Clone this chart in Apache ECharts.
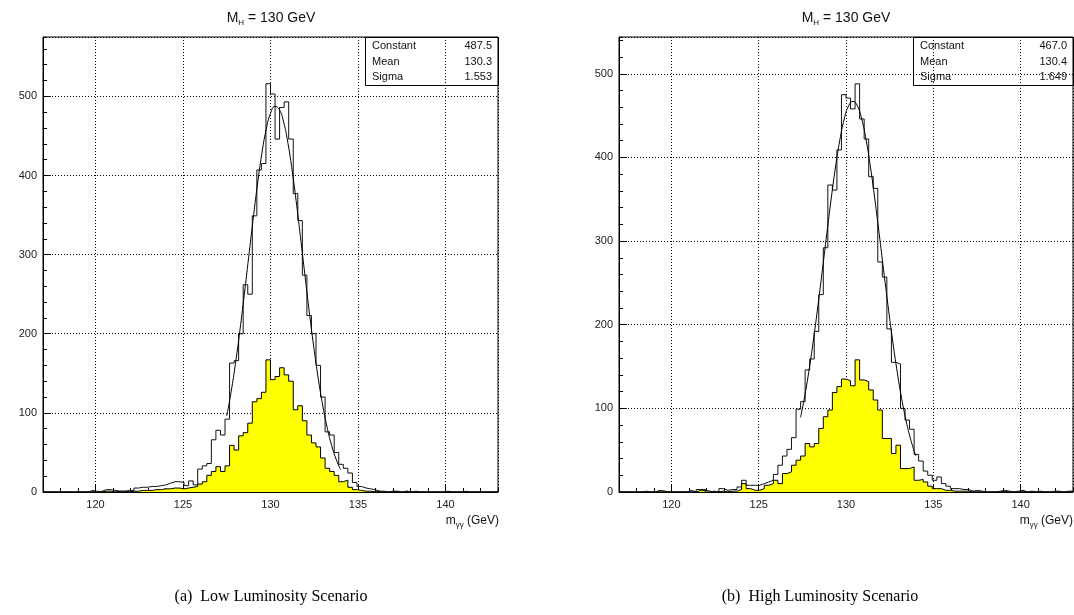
<!DOCTYPE html>
<html>
<head>
<meta charset="utf-8">
<script src="https://cdn.jsdelivr.net/npm/echarts@6/dist/echarts.min.js"></script>
<style>
  html, body { margin: 0; padding: 0; background: #fff; }
  #main { width: 1074px; height: 615px; }
</style>
</head>
<body>
<div id="main"></div>
<script>
  // binning of both histograms: 100 bins from 117 to 143 GeV
  var binLow = 117;
  var binWidth = 0.26;

  // (a) low luminosity: all events (open) and selected events (yellow)
  var lowTotal = [
    0, 0, 0, 0, 0, 0, 0, 0, 0, 0,
    2, 0, 1, 3, 3, 2, 1, 1, 2, 2,
    5, 6, 6, 7, 7, 8, 9, 11, 13, 13,
    12, 8, 14, 9, 29, 33, 36, 66, 78, 72,
    92, 163, 166, 200, 262, 250, 349, 407, 415, 516,
    503, 446, 486, 493, 446, 377, 343, 274, 223, 200,
    160, 120, 76, 72, 50, 35, 30, 24, 12, 7,
    5, 4, 3, 1, 1, 0, 1, 1, 0, 1,
    0, 1, 0, 0, 0, 0, 0, 0, 1, 0,
    0, 0, 1, 0, 0, 0, 0, 0, 0, 0
  ];
  var lowSel = [
    0, 0, 0, 0, 0, 0, 0, 0, 0, 0,
    0, 1, 0, 1, 1, 0, 1, 1, 0, 1,
    1, 2, 2, 2, 3, 3, 4, 4, 5, 5,
    4, 5, 6, 7, 10, 13, 21, 26, 32, 26,
    33, 59, 53, 71, 75, 87, 114, 118, 126, 167,
    142, 146, 157, 148, 140, 104, 109, 90, 72, 62,
    57, 43, 30, 26, 21, 13, 15, 6, 3, 2,
    1, 1, 0, 1, 0, 0, 1, 0, 0, 1,
    0, 0, 0, 0, 0, 0, 0, 0, 0, 0,
    0, 0, 0, 0, 0, 0, 0, 0, 0, 0
  ];
  // (b) high luminosity
  var highTotal = [
    0, 0, 0, 0, 0, 1, 0, 0, 2, 1,
    0, 0, 0, 0, 0, 2, 0, 3, 3, 0,
    1, 0, 4, 2, 3, 3, 6, 14, 8, 8,
    8, 10, 12, 14, 21, 32, 43, 51, 65, 99,
    108, 146, 159, 192, 236, 292, 367, 361, 409, 475,
    471, 458, 488, 446, 422, 377, 363, 275, 257, 195,
    155, 153, 100, 86, 75, 45, 37, 25, 20, 14,
    18, 10, 7, 4, 4, 3, 3, 1, 2, 1,
    0, 0, 0, 1, 2, 1, 0, 1, 2, 0,
    1, 0, 1, 0, 0, 1, 1, 0, 1, 1
  ];
  var highSel = [
    0, 0, 0, 0, 0, 0, 0, 0, 1, 1,
    0, 0, 0, 0, 0, 0, 0, 2, 2, 1,
    0, 0, 1, 0, 1, 1, 3, 10, 4, 2,
    2, 4, 8, 10, 14, 10, 22, 24, 32, 38,
    43, 58, 54, 58, 76, 90, 98, 119, 126, 135,
    133, 127, 158, 134, 132, 122, 110, 98, 64, 64,
    46, 56, 28, 28, 30, 14, 15, 12, 7, 4,
    4, 2, 2, 1, 1, 1, 1, 0, 0, 0,
    0, 0, 0, 0, 1, 0, 0, 0, 1, 0,
    0, 0, 0, 0, 0, 0, 0, 0, 0, 0
  ];

  // gaussian fit curves
  var lowFitX = [127.5, 127.75, 128, 128.25, 128.5, 128.75, 129, 129.25, 129.5, 129.75, 130, 130.25, 130.5,
    130.75, 131, 131.25, 131.5, 131.75, 132, 132.25, 132.5, 132.75, 133, 133.25, 133.5, 133.75, 134];
  var lowFitY = [96.0, 126.6, 162.8, 204.0, 249.0, 296.3, 343.4, 387.9, 426.9, 457.9, 478.5, 487.3, 483.5,
    467.5, 440.4, 404.3, 361.7, 315.3, 267.8, 221.6, 178.7, 140.4, 107.5, 80.2, 58.4, 41.4, 28.5];
  var highFitX = [127.4, 127.65, 127.9, 128.15, 128.4, 128.65, 128.9, 129.15, 129.4, 129.65, 129.9, 130.15, 130.4,
    130.65, 130.9, 131.15, 131.4, 131.65, 131.9, 132.15, 132.4, 132.65, 132.9, 133.15, 133.4, 133.65, 133.9, 134];
  var highFitY = [89.3, 116.2, 148.0, 184.1, 223.9, 265.9, 308.7, 350.3, 388.6, 421.1, 446.0, 461.7, 467.0,
    461.7, 446.0, 421.1, 388.6, 350.3, 308.7, 265.9, 223.9, 184.1, 148.0, 116.2, 89.3, 67.0, 49.1, 43.1];

  var lowStats = [["Constant", "487.5"], ["Mean", "130.3"], ["Sigma", "1.553"]];
  var highStats = [["Constant", "467.0"], ["Mean", "130.4"], ["Sigma", "1.649"]];

  var xMin = 117, xMax = 143;
  var lowYMax = 575, highYMax = 544;

  var fontName = "Liberation Sans";

  // turn bin contents into an outline: horizontal top of every bin
  function outline(vals) {
    var pts = [[binLow, 0]];
    for (var i = 0; i < vals.length; i++) {
      var lo = +(binLow + i * binWidth).toFixed(2);
      var hi = +(binLow + (i + 1) * binWidth).toFixed(2);
      pts.push([lo, vals[i]], [hi, vals[i]]);
    }
    pts.push([+(binLow + vals.length * binWidth).toFixed(2), 0]);
    return pts;
  }
  function pairs(xs, ys) {
    return xs.map(function (x, i) { return [x, ys[i]]; });
  }

  var myChart = echarts.init(document.getElementById("main"));

  function mainX(g) {
    return {
      gridIndex: g, type: "value", position: "bottom", min: xMin, max: xMax,
      splitNumber: 5, minInterval: 5, maxInterval: 5,
      axisLine: { show: true, lineStyle: { color: "#000", width: 1 } },
      axisTick: { show: true, inside: true, length: 8, lineStyle: { color: "#000" } },
      axisLabel: { color: "#222", fontSize: 11, fontFamily: fontName, margin: 7,
        showMinLabel: false, showMaxLabel: false },
      splitLine: { show: true, lineStyle: { color: "#000", type: [1, 2], width: 1 } }
    };
  }
  function minorX(g) {
    return {
      gridIndex: g, type: "value", position: "bottom", min: xMin, max: xMax, interval: 1,
      axisLine: { show: false },
      axisTick: { show: true, inside: true, length: 4, lineStyle: { color: "#000" } },
      axisLabel: { show: false },
      splitLine: { show: false }
    };
  }
  function mainY(g, top) {
    return {
      gridIndex: g, type: "value", position: "left", min: 0, max: top, interval: 100,
      axisLine: { show: true, lineStyle: { color: "#000", width: 1 } },
      axisTick: { show: true, inside: true, length: 8, lineStyle: { color: "#000" } },
      axisLabel: { color: "#222", fontSize: 11, fontFamily: fontName, margin: 6, showMaxLabel: false },
      splitLine: { show: true, lineStyle: { color: "#000", type: [1, 2], width: 1 } }
    };
  }
  function minorY(g, top) {
    return {
      gridIndex: g, type: "value", position: "left", min: 0, max: top, interval: 20,
      axisLine: { show: false },
      axisTick: { show: true, inside: true, length: 4, lineStyle: { color: "#000" } },
      axisLabel: { show: false },
      splitLine: { show: false }
    };
  }

  function histSeries(xi, yi, sel, total, fx, fy) {
    return [
      {
        type: "line", xAxisIndex: xi, yAxisIndex: yi, data: outline(sel),
        symbol: "none", animation: false,
        lineStyle: { color: "#000", width: 1 },
        areaStyle: { color: "#ffff00", opacity: 1 }
      },
      {
        type: "line", xAxisIndex: xi, yAxisIndex: yi, data: outline(total),
        symbol: "none", animation: false,
        lineStyle: { color: "#111", width: 1 }
      },
      {
        type: "line", xAxisIndex: xi, yAxisIndex: yi, data: pairs(fx, fy),
        symbol: "none", smooth: true, animation: false,
        lineStyle: { color: "#000", width: 1 }
      }
    ];
  }

  function statBox(x, y, w, h, rows) {
    var els = [{
      type: "rect", left: x, top: y, z: 10,
      shape: { width: w, height: h },
      style: { fill: "rgba(0,0,0,0)", stroke: "#000", lineWidth: 1 }
    }];
    rows.forEach(function (r, i) {
      var cy = y + 9 + i * 15.5;
      els.push({
        type: "text", x: x + 7, y: cy, z: 11,
        style: { text: r[0], fill: "#111", font: "11px " + fontName, align: "left", verticalAlign: "middle" }
      });
      els.push({
        type: "text", x: x + w - 6, y: cy, z: 11,
        style: { text: r[1], fill: "#111", font: "11px " + fontName, align: "right", verticalAlign: "middle" }
      });
    });
    return els;
  }

  function title(cx) {
    return {
      type: "text", x: cx, y: 18, z: 11,
      style: {
        text: "{n|M}{s|H}{n| = 130 GeV}", align: "center", verticalAlign: "middle", fill: "#111",
        rich: {
          n: { fontSize: 14, fontFamily: fontName, lineHeight: 17, verticalAlign: "middle" },
          s: { fontSize: 8, fontFamily: fontName, lineHeight: 17, verticalAlign: "bottom" }
        }
      }
    };
  }
  function axisName(rx) {
    return {
      type: "text", x: rx, y: 521, z: 11,
      style: {
        text: "{n|m}{s|γγ}{n| (GeV)}", align: "right", verticalAlign: "middle", fill: "#111",
        rich: {
          n: { fontSize: 12, fontFamily: fontName, lineHeight: 16, verticalAlign: "middle" },
          s: { fontSize: 8, fontFamily: fontName, lineHeight: 16, verticalAlign: "bottom" }
        }
      }
    };
  }
  function caption(cx, txt) {
    return {
      type: "text", x: cx, y: 597, z: 11,
      style: { text: txt, fill: "#000", font: "16px 'Liberation Serif'", align: "center", verticalAlign: "middle" }
    };
  }

  var option = {
    backgroundColor: "#fff",
    animation: false,
    grid: [
      { left: 43, top: 37, width: 455, height: 455, show: true, borderColor: "#000", borderWidth: 1, backgroundColor: "transparent" },
      { left: 619, top: 37, width: 454, height: 455, show: true, borderColor: "#000", borderWidth: 1, backgroundColor: "transparent" }
    ],
    xAxis: [mainX(0), minorX(0), mainX(1), minorX(1)],
    yAxis: [mainY(0, lowYMax), minorY(0, lowYMax), mainY(1, highYMax), minorY(1, highYMax)],
    series: []
      .concat(histSeries(0, 0, lowSel, lowTotal, lowFitX, lowFitY))
      .concat(histSeries(2, 2, highSel, highTotal, highFitX, highFitY)),
    graphic: []
      .concat(statBox(365, 37, 133, 48, lowStats))
      .concat(statBox(913, 37, 160, 48, highStats))
      .concat([title(271), title(846), axisName(499), axisName(1073),
        caption(271, "(a)  Low Luminosity Scenario"),
        caption(820, "(b)  High Luminosity Scenario")])
  };

  myChart.setOption(option);
</script>
</body>
</html>
